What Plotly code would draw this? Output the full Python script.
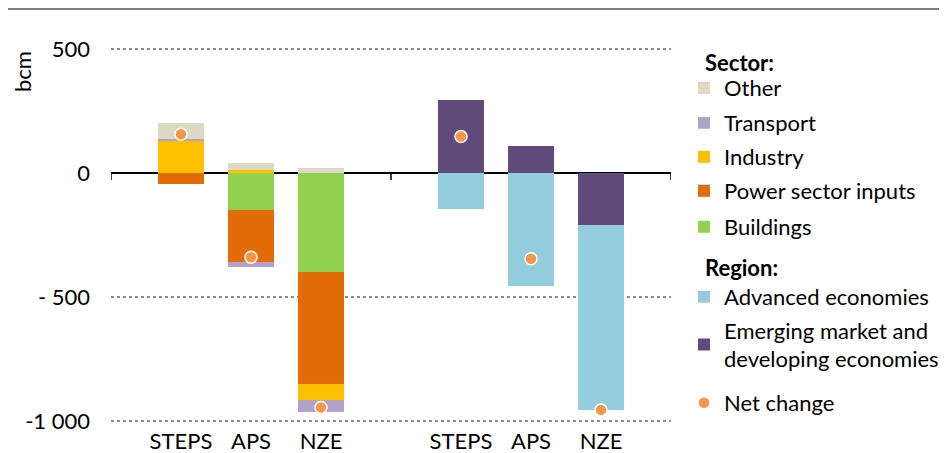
import plotly.graph_objects as go

# ---------------- data ----------------
scenarios = ["STEPS", "APS", "NZE"]
x_sector = [1, 2, 3]
x_region = [5, 6, 7]

sector_buildings = [0, -150, -400]
sector_power = [-45, -207, -452]
sector_industry = [128, 13, -63]
sector_transport = [11, -23, -50]
sector_other = [62, 27, 20]
net_sector = [156, -340, -945]

region_emerging = [293, 110, -210]
region_advanced = [-146, -456, -745]
net_region = [147, -346, -955]

y_tickvals = [500, 0, -500, -1000]
y_ticktext = ["500", "0", "- 500", "-1 000"]

# ---------------- style ----------------
FONT = "Lato"
FS = 22
colors = {
    "Other": "#DDD9C4",
    "Transport": "#B3A2C7",
    "Industry": "#FFC000",
    "Power sector inputs": "#E36C09",
    "Buildings": "#92D050",
    "Advanced economies": "#93CDDD",
    "Emerging market and<br>developing economies": "#604A7B",
    "Net change": "#F79646",
}

# the page body adds an 8px offset; geometry below is given in screen pixels
OFF = 8
W, H = 947, 453
PLOT_L, PLOT_R, PLOT_T, PLOT_B = 111, 671, 44, 426   # screen pixels
L = PLOT_L - OFF
T = PLOT_T - OFF
R = W - (PLOT_R - OFF)
B = H - (PLOT_B - OFF)
PH = PLOT_B - PLOT_T
PW = PLOT_R - PLOT_L


def py(Y):
    return (PLOT_B - Y) / PH


def px(X):
    return (X - PLOT_L) / PW


fig = go.Figure()

sector_series = [
    ("Buildings", sector_buildings, "legend5"),
    ("Power sector inputs", sector_power, "legend4"),
    ("Industry", sector_industry, "legend3"),
    ("Transport", sector_transport, "legend2"),
    ("Other", sector_other, "legend"),
]
for name, vals, lg in sector_series:
    fig.add_trace(go.Bar(
        x=x_sector, y=vals, name=name, width=0.67,
        marker=dict(color=colors[name], line=dict(width=0)),
        legend=lg,
    ))

region_series = [
    ("Emerging market and<br>developing economies", region_emerging, "legend7"),
    ("Advanced economies", region_advanced, "legend6"),
]
for name, vals, lg in region_series:
    fig.add_trace(go.Bar(
        x=x_region, y=vals, name=name, width=0.67,
        marker=dict(color=colors[name], line=dict(width=0)),
        legend=lg,
    ))

fig.add_trace(go.Scatter(
    x=x_sector + x_region, y=net_sector + net_region, mode="markers",
    name="Net change",
    marker=dict(color=colors["Net change"], size=12,
                line=dict(color="white", width=1.5)),
    legend="legend8",
))

# ---------------- legends ----------------
leg_x = px(684)
base_leg = dict(x=leg_x, xanchor="left", bgcolor="rgba(0,0,0,0)",
                font=dict(family=FONT, size=FS, color="#000"),
                itemclick=False, itemdoubleclick=False)


def leg(yc):
    d = dict(base_leg)
    d["y"] = py(yc)
    d["yanchor"] = "middle"
    return d


layout_legends = {
    "legend": leg(88),
    "legend2": leg(123),
    "legend3": leg(157),
    "legend4": leg(191),
    "legend5": leg(227),
    "legend6": leg(297),
    "legend7": leg(345),
    "legend8": leg(403),
}

fig.update_layout(
    width=W, height=H,
    margin=dict(l=L, r=R, t=T, b=B, autoexpand=False),
    barmode="relative",
    bargap=0,
    plot_bgcolor="white", paper_bgcolor="white",
    font=dict(family=FONT, size=FS, color="#000"),
    showlegend=True,
    **layout_legends,
)

fig.update_xaxes(
    range=[0, 8], tickvals=x_sector + x_region, ticktext=scenarios + scenarios,
    ticks="", showgrid=False, zeroline=False, showline=False,
    tickfont=dict(family=FONT, size=FS, color="#000"),
    automargin=False, fixedrange=True,
)
fig.update_yaxes(
    range=[-1020, 520], tickvals=y_tickvals, ticktext=y_ticktext,
    showgrid=True, gridcolor="#8C8C8C", gridwidth=2, griddash="3px,3px",
    zeroline=True, zerolinecolor="#000", zerolinewidth=1.5,
    showline=False, ticks="", ticklabelstandoff=20,
    tickfont=dict(family=FONT, size=FS, color="#000"),
    automargin=False, fixedrange=True,
)

# zero-line tick marks separating groups
for xv in [0, 4, 8]:
    fig.add_shape(type="line", xref="x", yref="y", x0=xv, x1=xv, y0=0, y1=-28,
                  line=dict(color="#000", width=1.5))

# top border line
fig.add_shape(type="line", xref="paper", yref="paper",
              x0=px(0), x1=px(W), y0=py(8.5), y1=py(8.5),
              line=dict(color="#808080", width=3))

# legend section headings
for txt, yc in [("<b>Sector:</b>", 63), ("<b>Region:</b>", 267)]:
    fig.add_annotation(text=txt, xref="paper", yref="paper",
                       x=px(703), y=py(yc), showarrow=False,
                       xanchor="left", yanchor="middle",
                       font=dict(family=FONT, size=FS, color="#000"))

# axis unit label
fig.add_annotation(text="bcm", xref="paper", yref="paper",
                   x=px(23), y=py(72), textangle=-90, showarrow=False,
                   xanchor="center", yanchor="middle", borderpad=0,
                   font=dict(family=FONT, size=FS, color="#000"))

fig.write_html("out.html")
